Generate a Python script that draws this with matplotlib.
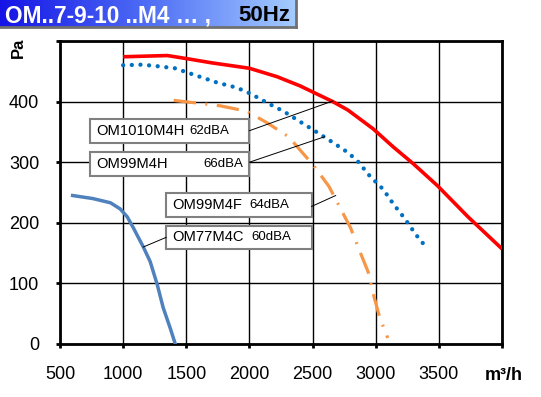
import numpy as np
import matplotlib
matplotlib.use("Agg")
import matplotlib.pyplot as plt
from matplotlib.patches import Rectangle

plt.rcParams["font.family"] = ["Liberation Sans", "DejaVu Sans"]

# fan curves (airflow m3/h, pressure Pa)
om1010_x = [1000, 1350, 1500, 1700, 2000, 2220, 2400, 2520, 2660, 2780, 2980, 3140, 3300, 3490, 3730, 4000]
om1010_y = [474, 476, 471, 464, 455, 441, 426, 414, 400, 386, 355, 325, 297, 261, 210, 157]

om99h_x = [1000, 1150, 1290, 1410, 1550, 1750, 1900, 2010, 2140, 2270, 2400, 2530, 2650, 2780,
           2860, 2950, 3060, 3140, 3230, 3320, 3410]
om99h_y = [460, 461, 458, 455, 445, 431, 423, 413, 398, 384, 367, 350, 334, 316,
           301, 278, 255, 231, 207, 180, 157]

om99f_x = [1400, 1610, 1770, 1980, 2140, 2310, 2510, 2630, 2710, 2800, 2870, 2940, 2980, 3030, 3095]
om99f_y = [402, 397, 393, 384, 365, 342, 294, 260, 228, 192, 155, 119, 83, 45, 10]

om77_x = [600, 760, 900, 976, 1032, 1080, 1160, 1214, 1270, 1317, 1373, 1413]
om77_y = [245, 240, 233, 223, 210, 192, 160, 136, 98, 60, 26, 0]

x_ticks = [500, 1000, 1500, 2000, 2500, 3000, 3500, 4000]
x_labels = ["500", "1000", "1500", "2000", "2500", "3000", "3500", ""]
y_ticks = [0, 100, 200, 300, 400, 500]
y_labels = ["0", "100", "200", "300", "400", ""]

# label boxes: (model, noise, box x0, x1, y0, y1, noise text x, leader start, leader end)
labels = [
    ("OM1010M4H", "62dBA", 738, 2000, 332, 372, 1525, (2000, 352), (2660, 401)),
    ("OM99M4H", "66dBA", 738, 2000, 278, 317, 1635, (2000, 300), (2595, 342)),
    ("OM99M4F", "64dBA", 1341, 2492, 210, 250, 2000, (2492, 227), (2683, 245)),
    ("OM77M4C", "60dBA", 1341, 2492, 157, 195, 2016, (1341, 176), (1159, 160)),
]

W, H = 541, 397
fig = plt.figure(figsize=(W / 100, H / 100), dpi=100)

# title banner with blue gradient
bax = fig.add_axes([0, 1 - 27 / H, 296 / W, 27 / H])
grad = np.linspace(0, 1, 256).reshape(1, -1)
cmap = matplotlib.colors.LinearSegmentedColormap.from_list("ban", ["#1414e6", "#4f6ef5", "#a4ccff"])
bax.imshow(grad, aspect="auto", cmap=cmap, extent=[0, 1, 0, 1])
bax.set_xlim(0, 1)
bax.set_ylim(0, 1)
bax.set_xticks([])
bax.set_yticks([])
for s in ["top", "left"]:
    bax.spines[s].set_visible(False)
for s in ["right", "bottom"]:
    bax.spines[s].set_color("#707070")
    bax.spines[s].set_linewidth(2)
bax.text(5 / 296, 0.42, "OM..7-9-10 ..M4 \u2026 ,", color="white", fontsize=16.3,
         fontweight="bold", va="center", ha="left")
bax.text(290 / 296, 0.42, "50Hz", color="black", fontsize=16,
         fontweight="bold", va="center", ha="right")

ax = fig.add_axes([60 / W, 1 - 344 / H, (502 - 60) / W, (344 - 41) / H])

ax.plot(om1010_x, om1010_y, color="#ff0000", lw=2.6, zorder=4, solid_capstyle="butt")
ax.plot(om99h_x, om99h_y, color="#0070c0", lw=3.1, zorder=4,
        linestyle=(0, (0.01, 2.0)), dash_capstyle="round")
ax.plot(om99f_x, om99f_y, color="#f79646", lw=2.3, zorder=4,
        linestyle=(0, (7.0, 3.0, 0.6, 3.0)), dash_capstyle="butt")
ax.plot(om77_x, om77_y, color="#4f81bd", lw=2.5, zorder=4)

for model, noise, x0, x1, y0, y1, nx, p0, p1 in labels:
    ax.add_patch(Rectangle((x0, y0), x1 - x0, y1 - y0, facecolor="white",
                           edgecolor="#808080", lw=1.5, zorder=5))
    yc = (y0 + y1) / 2
    ax.text(x0 + 48, yc, model, fontsize=10.6, va="center", ha="left", zorder=6)
    ax.text(nx, yc, noise, fontsize=9.5, va="center", ha="left", zorder=6)
    ax.plot([p0[0], p1[0]], [p0[1], p1[1]], color="black", lw=0.7, zorder=6)

ax.set_xlim(500, 4000)
ax.set_ylim(0, 500)
ax.set_xticks(x_ticks)
ax.set_xticklabels(x_labels)
ax.set_yticks(y_ticks)
ax.set_yticklabels(y_labels)
ax.tick_params(direction="out", length=3, width=2, labelsize=13, pad=12)
ax.tick_params(axis="x", pad=13)
ax.grid(True, color="black", lw=1.0, zorder=1)
for s in ax.spines.values():
    s.set_linewidth(2)

fig.text(18 / W, 1 - 48 / H, "Pa", rotation=90, fontsize=12, fontweight="bold",
         ha="center", va="center")
fig.text(485 / W, 1 - 375 / H, "m\u00b3/h", fontsize=13, fontweight="bold",
         ha="left", va="center")

fig.savefig("out.png", dpi=100)
